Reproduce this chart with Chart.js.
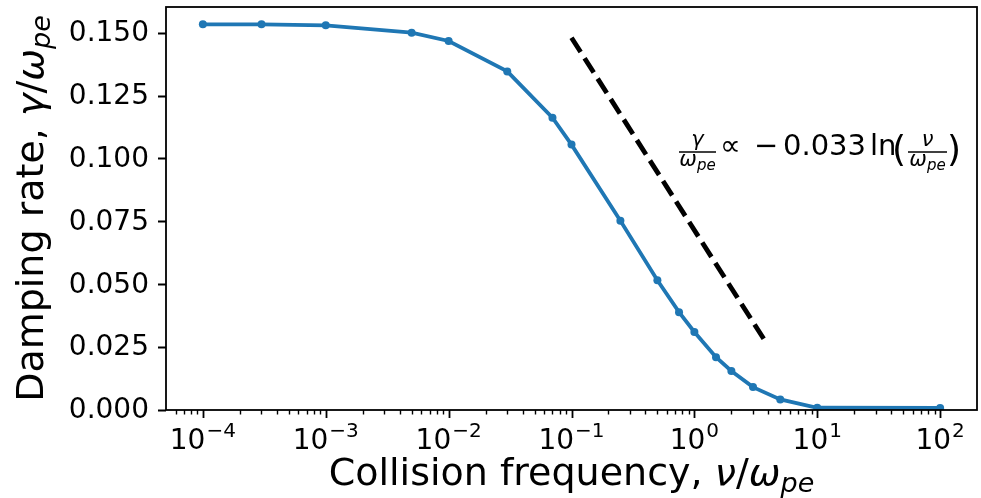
<!DOCTYPE html>
<html><head><meta charset="utf-8">
<script src="https://cdn.jsdelivr.net/npm/chart.js@4"></script>
<style>html,body{margin:0;padding:0;background:#fff}#wrap{width:981px;height:498px;position:relative}</style>
</head><body><div id="wrap"><canvas id="c" width="981" height="498"></canvas></div>
<script>
// ---- data ----
const collisionFreq = [1e-4, 3e-4, 1e-3, 5e-3, 1e-2, 3e-2, 0.07, 0.1, 0.25, 0.5, 0.75, 1, 1.5, 2, 3, 5, 10, 100];
const dampingRate   = [0.1533, 0.1533, 0.1529, 0.1500, 0.1467, 0.1346, 0.1162, 0.1055, 0.0752, 0.0516, 0.0389, 0.0310, 0.0210, 0.0155, 0.0091, 0.0042, 0.0009, 0.0008];
const fitLineX = [0.1, 3.7];
const fitLineY = [0.148, 0.028];
const yTickValues = [0, 0.025, 0.05, 0.075, 0.1, 0.125, 0.15];
const yTickLabels = ['0.000', '0.025', '0.050', '0.075', '0.100', '0.125', '0.150'];
const xTickExponents = [-4, -3, -2, -1, 0, 1, 2];
const xTickExponentLabels = ['\u22124', '\u22123', '\u22122', '\u22121', '0', '1', '2'];

const FONT = '"DejaVu Sans"';
const TICK_PX = 28, LABEL_PX = 38, ANN_PX = 29;

function drawRuns(ctx, runs, x, y, align) {
  let w = 0;
  const ms = runs.map(r => {
    ctx.font = (r.italic ? 'oblique ' : '') + r.size + 'px ' + FONT;
    const m = ctx.measureText(r.t).width;
    w += m + (r.dx || 0);
    return m;
  });
  let cx = align === 'center' ? x - w / 2 : (align === 'right' ? x - w : x);
  runs.forEach((r, i) => {
    cx += (r.dx || 0);
    ctx.font = (r.italic ? 'oblique ' : '') + r.size + 'px ' + FONT;
    ctx.fillText(r.t, cx, y + (r.dy || 0));
    cx += ms[i];
  });
  return w;
}

const decor = {
  id: 'decor',
  afterDatasetsDraw(chart) {
    const ctx = chart.ctx, a = chart.chartArea;
    const xs = chart.scales.x, ys = chart.scales.y;
    ctx.save();
    ctx.fillStyle = '#000';
    ctx.strokeStyle = '#000';
    ctx.lineWidth = 1.8;
    ctx.strokeRect(a.left, a.top, a.right - a.left, a.bottom - a.top);
    ctx.beginPath();
    xTickExponents.forEach(e => {
      const px = Math.round(xs.getPixelForValue(Math.pow(10, e))) + 0.5;
      ctx.moveTo(px, a.bottom); ctx.lineTo(px, a.bottom + 8);
    });
    ctx.stroke();
    ctx.lineWidth = 1.4;
    ctx.beginPath();
    for (let e = -5; e <= 2; e++) {
      for (let m = 2; m <= 9; m++) {
        const v = m * Math.pow(10, e);
        if (v <= xs.min || v >= xs.max) continue;
        const px = Math.round(xs.getPixelForValue(v)) + 0.5;
        ctx.moveTo(px, a.bottom); ctx.lineTo(px, a.bottom + 4.6);
      }
    }
    ctx.stroke();
    ctx.lineWidth = 1.8;
    ctx.beginPath();
    yTickValues.forEach(v => {
      const py = Math.round(ys.getPixelForValue(v)) + 0.5;
      ctx.moveTo(a.left - 8, py); ctx.lineTo(a.left, py);
    });
    ctx.stroke();
    ctx.font = TICK_PX + 'px ' + FONT;
    ctx.textAlign = 'right';
    ctx.textBaseline = 'middle';
    yTickValues.forEach((v, i) => {
      ctx.fillText(yTickLabels[i], a.left - 17, ys.getPixelForValue(v) + 1);
    });
    ctx.textAlign = 'left';
    ctx.textBaseline = 'alphabetic';
    xTickExponents.forEach((e, i) => {
      const px = xs.getPixelForValue(Math.pow(10, e));
      drawRuns(ctx, [
        { t: '10', size: TICK_PX },
        { t: xTickExponentLabels[i], size: Math.round(TICK_PX * 0.7), dy: -12, dx: 1 }
      ], px, a.bottom + 39, 'center');
    });
    drawRuns(ctx, [
      { t: 'Collision frequency, ', size: LABEL_PX },
      { t: '\u03BD', size: LABEL_PX, italic: true },
      { t: '/', size: LABEL_PX },
      { t: '\u03C9', size: LABEL_PX, italic: true },
      { t: 'pe', size: Math.round(LABEL_PX * 0.7), italic: true, dy: 7 }
    ], (a.left + a.right) / 2, 485, 'center');
    ctx.save();
    ctx.translate(43, (a.top + a.bottom) / 2);
    ctx.rotate(-Math.PI / 2);
    drawRuns(ctx, [
      { t: 'Damping rate, ', size: LABEL_PX },
      { t: '\u03B3', size: LABEL_PX, italic: true },
      { t: '/', size: LABEL_PX },
      { t: '\u03C9', size: LABEL_PX, italic: true },
      { t: 'pe', size: Math.round(LABEL_PX * 0.7), italic: true, dy: 7 }
    ], 0, 0, 'center');
    ctx.restore();
    // annotation
    const small = 21;
    const base = 155;
    ctx.lineWidth = 1.3;
    ctx.beginPath(); ctx.moveTo(679, 152); ctx.lineTo(716, 152); ctx.stroke();
    drawRuns(ctx, [{ t: '\u03B3', size: small, italic: true }], 697.5, 146, 'center');
    drawRuns(ctx, [
      { t: '\u03C9', size: small, italic: true },
      { t: 'pe', size: 15, italic: true, dy: 4 }
    ], 697.5, 166, 'center');
    drawRuns(ctx, [{ t: '\u221D', size: ANN_PX }], 720, base, 'left');
    drawRuns(ctx, [{ t: '\u2212', size: ANN_PX }], 754, base, 'left');
    const w = drawRuns(ctx, [{ t: '0.033', size: ANN_PX }], 783, base, 'left');
    drawRuns(ctx, [{ t: 'ln', size: ANN_PX }], 783 + w + 4, base, 'left');
    drawRuns(ctx, [{ t: '(', size: 36 }], 892, base + 6, 'left');
    ctx.beginPath(); ctx.moveTo(908, 152); ctx.lineTo(947, 152); ctx.stroke();
    drawRuns(ctx, [{ t: '\u03BD', size: small, italic: true }], 927.5, 146, 'center');
    drawRuns(ctx, [
      { t: '\u03C9', size: small, italic: true },
      { t: 'pe', size: 15, italic: true, dy: 4 }
    ], 927.5, 166, 'center');
    drawRuns(ctx, [{ t: ')', size: 36 }], 947, base + 6, 'left');
    ctx.restore();
  }
};

new Chart(document.getElementById('c'), {
  type: 'scatter',
  data: {
    datasets: [
      {
        data: collisionFreq.map((x, i) => ({ x, y: dampingRate[i] })),
        showLine: true,
        borderColor: '#1f77b4',
        backgroundColor: '#1f77b4',
        borderWidth: 3.8,
        pointRadius: 4,
        pointBorderWidth: 0,
        pointHoverRadius: 4
      },
      {
        data: fitLineX.map((x, i) => ({ x, y: fitLineY[i] })),
        showLine: true,
        borderColor: '#000',
        borderWidth: 4.8,
        borderDash: [17, 7.3],
        borderCapStyle: 'butt',
        pointRadius: 0
      }
    ]
  },
  plugins: [decor],
  options: {
    responsive: false,
    animation: false,
    devicePixelRatio: 1,
    layout: { padding: { top: 7, right: 1, left: 0, bottom: 0 } },
    plugins: { legend: { display: false }, tooltip: { enabled: false } },
    scales: {
      x: {
        type: 'logarithmic',
        min: Math.pow(10, -4.3),
        max: Math.pow(10, 2.3),
        ticks: { display: false },
        grid: { display: false },
        border: { display: false },
        afterFit(s) { s.height = 88; }
      },
      y: {
        type: 'linear',
        min: 0,
        max: 0.1602,
        ticks: { display: false },
        grid: { display: false },
        border: { display: false },
        afterFit(s) { s.width = 166; }
      }
    }
  }
});
</script>
</body></html>
